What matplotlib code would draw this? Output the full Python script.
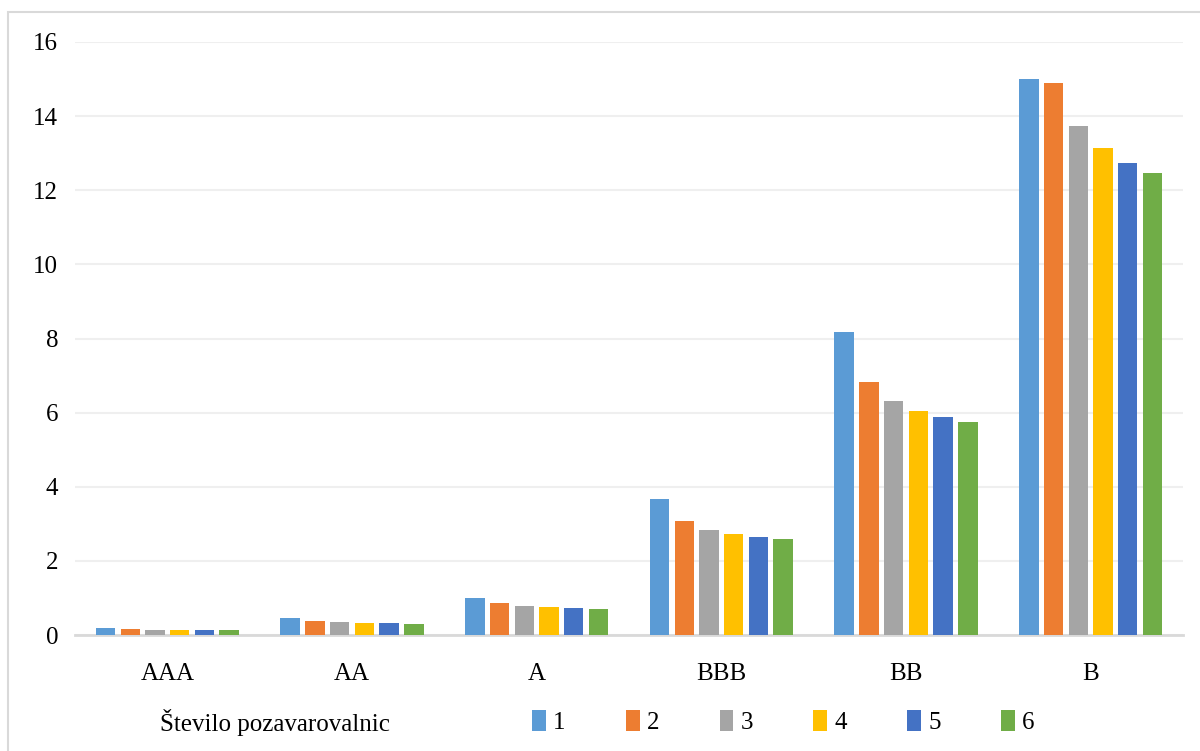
import numpy as np
import matplotlib.pyplot as plt
from matplotlib.patches import Rectangle

# bonitetni razredi in vrednosti po stevilu pozavarovalnic
ratings = ["AAA", "AA", "A", "BBB", "BB", "B"]
series_names = ["1", "2", "3", "4", "5", "6"]
s1 = [0.19, 0.45, 1.01, 3.67, 8.18, 15.00]
s2 = [0.16, 0.38, 0.85, 3.07, 6.83, 14.89]
s3 = [0.14, 0.34, 0.78, 2.84, 6.32, 13.73]
s4 = [0.14, 0.32, 0.75, 2.73, 6.04, 13.13]
s5 = [0.14, 0.32, 0.72, 2.64, 5.88, 12.73]
s6 = [0.13, 0.31, 0.70, 2.60, 5.74, 12.47]
colors = ["#5B9BD5", "#ED7D31", "#A5A5A5", "#FFC000", "#4472C4", "#70AD47"]

plt.rcParams['font.family'] = ['Liberation Serif', 'DejaVu Serif']

fig = plt.figure(figsize=(12, 7.51), dpi=100)
ax = fig.add_axes([75 / 1200, 1 - 635 / 751, 1108 / 1200, 593 / 751])

x = np.arange(len(ratings))
step = 0.1337
for i, vals in enumerate([s1, s2, s3, s4, s5, s6]):
    ax.bar(x + (i - 2.5) * step, vals, width=0.106, color=colors[i],
           label=series_names[i], zorder=3)

ax.set_xlim(-0.5, 5.5)
ax.set_ylim(0, 16)
ax.set_yticks(range(0, 17, 2))
ax.set_xticks(x)
ax.set_xticklabels(ratings)
ax.tick_params(axis='both', length=0, labelsize=18, colors='black')
ax.tick_params(axis='x', pad=20)
ax.tick_params(axis='y', pad=12)
ax.grid(axis='y', color='#EFEFEF', linewidth=1.5, zorder=0)
for side in ['top', 'right', 'left']:
    ax.spines[side].set_visible(False)
ax.spines['bottom'].set_color('#D9D9D9')
ax.spines['bottom'].set_linewidth(2)

# legenda
fig.text(160 / 1200, 1 - 723 / 751, "Število pozavarovalnic", fontsize=18,
         va='center', ha='left')
fig.legend(loc='center left', bbox_to_anchor=(532 / 1200, 1 - 722 / 751),
           ncol=6, frameon=False, fontsize=18, handlelength=0.55,
           handleheight=0.9, handletextpad=0.3, columnspacing=2.4,
           borderaxespad=0, borderpad=0)

# okvir grafa
fig.patches.append(Rectangle((8 / 1200, -0.1), 1.2, 1 - 12 / 751 + 0.1,
                             transform=fig.transFigure, fill=False,
                             edgecolor='#D9D9D9', linewidth=1.5))

fig.savefig("out.png", dpi=100, facecolor='white')
